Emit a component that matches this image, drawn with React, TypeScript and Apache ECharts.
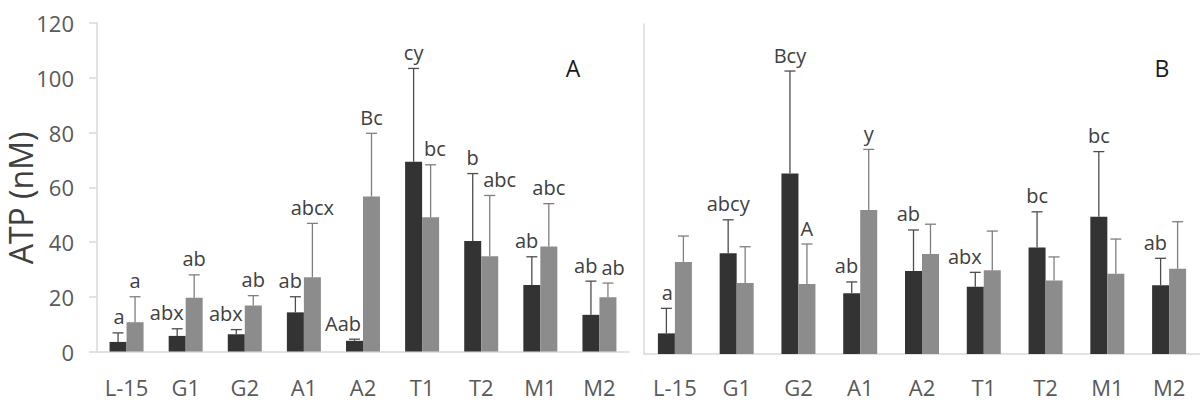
import React, { useEffect, useRef } from "react";
import * as echarts from "echarts";

const categories = ["L-15", "G1", "G2", "A1", "A2", "T1", "T2", "M1", "M2"];
const yMin = 0;
const yMax = 120;
const yStep = 20;

// Panel A
const aDark = [3.5, 5.7, 6.3, 14.3, 3.9, 69.3, 40.4, 24.3, 13.4];
const aDarkErrTop = [6.8, 8.3, 8.0, 20.0, 4.5, 103.4, 65.0, 34.6, 25.7];
const aGray = [10.7, 19.6, 16.8, 27.1, 56.6, 49.0, 34.8, 38.4, 19.8];
const aGrayErrTop = [20.0, 28.0, 20.4, 46.8, 79.7, 68.2, 57.0, 54.0, 25.0];
const aDarkLabels = ["a", "abx", "abx", "ab", "Aab", "cy", "b", "ab", "ab"];
const aGrayLabels = ["a", "ab", "ab", "abcx", "Bc", "bc", "abc", "abc", "ab"];

// Panel B
const bDark = [7.5, 36.6, 65.6, 22.1, 30.2, 24.5, 38.7, 49.9, 25.0];
const bDarkErrTop = [16.6, 48.8, 102.9, 26.2, 45.1, 29.7, 51.7, 73.6, 34.8];
const bGray = [33.5, 25.8, 25.5, 52.4, 36.4, 30.5, 26.7, 29.2, 31.0];
const bGrayErrTop = [42.9, 39.0, 40.0, 74.4, 47.2, 44.7, 35.3, 41.8, 48.1];
const bDarkLabels = ["a", "abcy", "Bcy", "ab", "ab", "abx", "bc", "bc", "ab"];
const bGrayLabels = ["", "", "A", "y", "", "", "", "", ""];

const panelLetters = ["A", "B"];
const yTitle = "ATP (nM)";

const FONT = "'Open Sans', 'Liberation Sans', sans-serif";
const BAR_W = 17;
const CAP = 5.5;
const DARK = "#333333";
const GRAY = "#8c8c8c";
const AXIS = "#d9d9d9";
const TEXT = "#404040";

function errSeries(
  axisIdx: number,
  vals: number[],
  errs: number[],
  otherErrs: number[],
  labels: string[],
  side: number,
  stroke: string
) {
  return {
    type: "custom",
    xAxisIndex: axisIdx,
    yAxisIndex: axisIdx,
    silent: true,
    z: 5,
    data: categories.map((_, i) => [i, vals[i], errs[i]]),
    encode: { x: 0, y: [1, 2] },
    renderItem: (params: any, api: any) => {
      const i = api.value(0);
      const base = api.coord([i, api.value(1)]);
      const top = api.coord([i, api.value(2)]);
      const x = base[0] + (side * BAR_W) / 2;
      const children: any[] = [
        {
          type: "line",
          shape: { x1: x, y1: base[1], x2: x, y2: top[1] },
          style: { stroke, lineWidth: 1.3 },
        },
        {
          type: "line",
          shape: { x1: x - CAP, y1: top[1], x2: x + CAP, y2: top[1] },
          style: { stroke, lineWidth: 1.3 },
        },
      ];
      const text = labels[i];
      if (text) {
        const crowded = otherErrs[i] > errs[i] - 5;
        let align = "center";
        let tx = x;
        if (crowded) {
          if (side < 0) {
            align = "right";
            tx = x + BAR_W / 2 - 2;
          } else {
            align = "left";
            tx = x - BAR_W / 2 + 2;
          }
        }
        children.push({
          type: "text",
          x: tx,
          y: top[1] - 6,
          style: {
            text,
            align,
            verticalAlign: "bottom",
            fill: TEXT,
            fontSize: 20,
            fontFamily: FONT,
          },
        });
      }
      return { type: "group", children };
    },
  };
}

export default function App() {
  const ref = useRef<HTMLDivElement>(null);

  useEffect(() => {
    if (!ref.current) return;
    const chart = echarts.init(ref.current, null, { renderer: "svg" });

    const xAxisCommon = (gridIndex: number, margin: number) => ({
      type: "category",
      gridIndex,
      data: categories,
      axisLine: { show: true, lineStyle: { color: AXIS, width: 1.5 } },
      axisTick: { show: false },
      axisLabel: { margin, fontSize: 22, color: "#595959", fontFamily: FONT },
      splitLine: { show: false },
    });

    const option: any = {
      animation: false,
      backgroundColor: "#ffffff",
      grid: [
        { left: 97, top: 23, width: 532, height: 328.5 },
        { left: 644, top: 24, width: 558, height: 330 },
      ],
      xAxis: [xAxisCommon(0, 24), xAxisCommon(1, 22)],
      yAxis: [
        {
          type: "value",
          gridIndex: 0,
          min: yMin,
          max: yMax,
          interval: yStep,
          axisLine: { show: true, lineStyle: { color: AXIS, width: 1.5 } },
          axisTick: { show: true, length: 8, lineStyle: { color: AXIS, width: 1.5 } },
          axisLabel: { margin: 23, fontSize: 22, color: "#595959", fontFamily: FONT },
          splitLine: { show: false },
        },
        {
          type: "value",
          gridIndex: 1,
          min: yMin,
          max: yMax,
          interval: yStep,
          axisLine: { show: true, lineStyle: { color: AXIS, width: 1.5 } },
          axisTick: { show: false },
          axisLabel: { show: false },
          splitLine: { show: false },
        },
      ],
      series: [
        {
          type: "bar",
          xAxisIndex: 0,
          yAxisIndex: 0,
          data: aDark,
          barWidth: BAR_W,
          barGap: "0%",
          itemStyle: { color: DARK },
        },
        {
          type: "bar",
          xAxisIndex: 0,
          yAxisIndex: 0,
          data: aGray,
          barWidth: BAR_W,
          barGap: "0%",
          itemStyle: { color: GRAY },
        },
        {
          type: "bar",
          xAxisIndex: 1,
          yAxisIndex: 1,
          data: bDark,
          barWidth: BAR_W,
          barGap: "0%",
          itemStyle: { color: DARK },
        },
        {
          type: "bar",
          xAxisIndex: 1,
          yAxisIndex: 1,
          data: bGray,
          barWidth: BAR_W,
          barGap: "0%",
          itemStyle: { color: GRAY },
        },
        errSeries(0, aDark, aDarkErrTop, aGrayErrTop, aDarkLabels, -1, "#4d4d4d"),
        errSeries(0, aGray, aGrayErrTop, aDarkErrTop, aGrayLabels, 1, "#7f7f7f"),
        errSeries(1, bDark, bDarkErrTop, bGrayErrTop, bDarkLabels, -1, "#4d4d4d"),
        errSeries(1, bGray, bGrayErrTop, bDarkErrTop, bGrayLabels, 1, "#7f7f7f"),
      ],
      graphic: [
        {
          type: "text",
          x: 20,
          y: 198,
          rotation: Math.PI / 2,
          style: {
            text: yTitle,
            align: "center",
            verticalAlign: "middle",
            fill: TEXT,
            fontSize: 32,
            fontFamily: FONT,
          },
        },
        {
          type: "text",
          x: 573,
          y: 68,
          style: {
            text: panelLetters[0],
            align: "center",
            verticalAlign: "middle",
            fill: "#1a1a1a",
            fontSize: 23,
            fontFamily: FONT,
          },
        },
        {
          type: "text",
          x: 1162,
          y: 68,
          style: {
            text: panelLetters[1],
            align: "center",
            verticalAlign: "middle",
            fill: "#1a1a1a",
            fontSize: 23,
            fontFamily: FONT,
          },
        },
      ],
    };

    chart.setOption(option);
    return () => chart.dispose();
  }, []);

  return (
    <div
      ref={ref}
      style={{ position: "fixed", left: 0, top: 0, width: 1200, height: 411 }}
    />
  );
}
